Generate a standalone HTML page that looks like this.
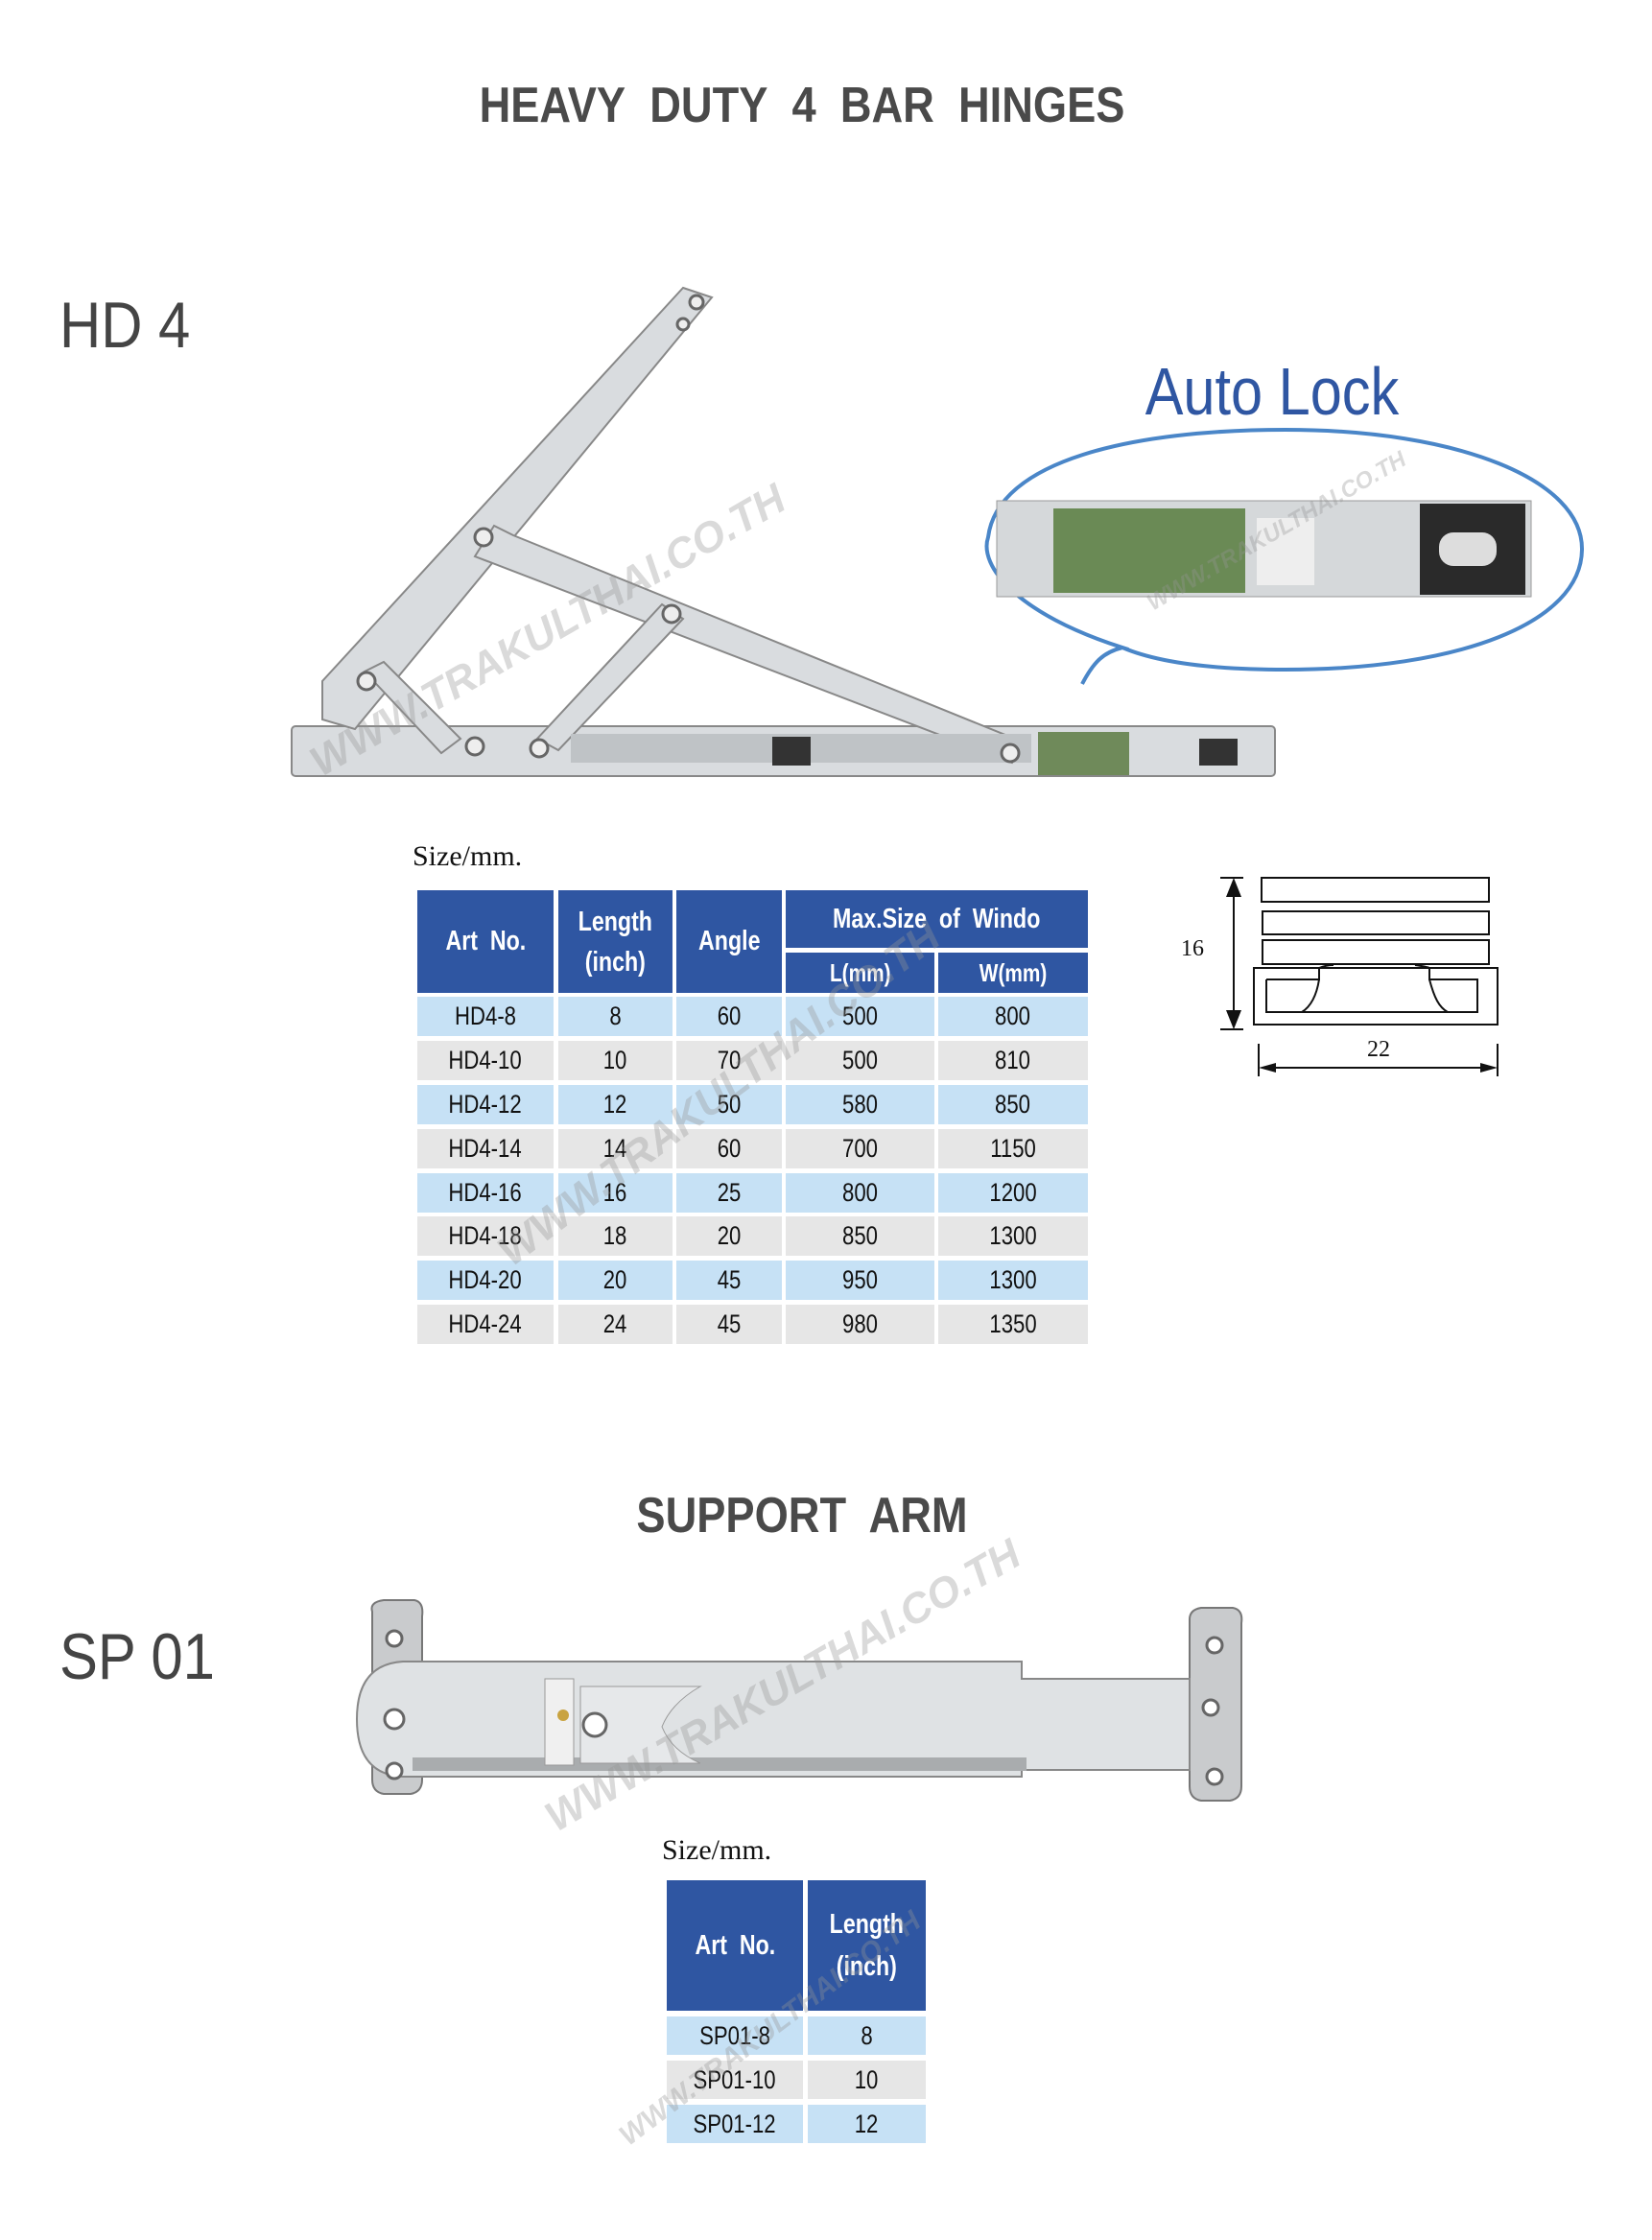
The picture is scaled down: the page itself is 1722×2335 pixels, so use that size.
<!DOCTYPE html>
<html><head><meta charset="utf-8"><style>
body{margin:0;width:1722px;height:2335px;background:#fff;position:relative;overflow:hidden;font-family:"Liberation Sans",sans-serif}
.a{position:absolute}
.t{position:absolute;font-weight:bold;color:#4a4a4a;white-space:nowrap;transform-origin:center;}
.c{position:absolute;display:flex;align-items:center;justify-content:center;font-size:27px;color:#111;}
.c span{display:inline-block;transform:scaleX(0.82)}
.h{background:#2f56a2;color:#fff;font-weight:bold;font-size:29px;text-align:center;line-height:1.5}
.b{background:#c6e1f5}.g{background:#e6e6e6}
.wm{position:absolute;color:rgba(150,150,150,0.35);font-weight:bold;font-style:italic;white-space:nowrap;transform-origin:left bottom}
</style></head><body>

<div class="t" style="left:436px;top:80px;width:800px;text-align:center;font-size:52px;transform:scaleX(0.87)">HEAVY&nbsp; DUTY&nbsp; 4&nbsp; BAR&nbsp; HINGES</div>
<div class="t" style="left:62px;top:300px;font-size:68px;font-weight:normal;color:#444;transform:scaleX(0.88);transform-origin:left">HD 4</div>

<svg class="a" style="left:0;top:0" width="1722" height="900">
 <g stroke="#888" stroke-width="2" fill="#d9dcdf">
  <rect x="304" y="757" width="1025" height="52" rx="4"/>
  <polygon points="712,300 742,310 370,760 336,750 336,710"/>
  <polygon points="515,548 535,558 1070,775 1055,795 495,580"/>
  <polygon points="690,630 712,645 582,782 560,770"/>
  <polygon points="380,700 400,690 480,770 460,785"/>
 </g>
 <rect x="595" y="765" width="480" height="30" fill="#bfc3c6"/>
 <rect x="1082" y="763" width="95" height="45" fill="#6f8a5a"/>
 <rect x="805" y="768" width="40" height="30" fill="#333"/>
 <rect x="1250" y="770" width="40" height="28" fill="#333"/>
 <g fill="#eee" stroke="#666" stroke-width="3">
  <circle cx="504" cy="560" r="9"/><circle cx="700" cy="640" r="9"/><circle cx="382" cy="710" r="9"/>
  <circle cx="495" cy="778" r="9"/><circle cx="562" cy="780" r="9"/><circle cx="1053" cy="785" r="9"/>
  <circle cx="726" cy="315" r="7"/><circle cx="712" cy="338" r="6"/>
 </g>
 <text x="1326" y="432" text-anchor="middle" font-family="Liberation Sans" font-size="70" fill="#2f56a2" transform="translate(1326 0) scale(0.85 1) translate(-1326 0)">Auto Lock</text>
 <path d="M1128,713 C1140,690 1150,680 1170,675 C1060,640 1020,590 1030,560 C1040,480 1180,448 1340,448 C1520,448 1650,500 1649,573 C1648,650 1520,698 1340,698 C1260,698 1205,690 1170,675" fill="none" stroke="#4a86c8" stroke-width="4"/>
 <rect x="1039" y="522" width="557" height="100" fill="#d5d8da" stroke="#999"/>
 <rect x="1098" y="530" width="200" height="88" fill="#6a8a55"/>
 <rect x="1480" y="525" width="110" height="95" fill="#2a2a2a"/>
 <rect x="1500" y="555" width="60" height="35" rx="15" fill="#ddd"/>
 <rect x="1310" y="540" width="60" height="70" fill="#eee"/>
</svg>

<div class="wm" style="left:340px;top:770px;font-size:44px;transform:rotate(-30deg)">WWW.TRAKULTHAI.CO.TH</div>
<div class="wm" style="left:1205px;top:615px;font-size:24px;transform:rotate(-30deg)">WWW.TRAKULTHAI.CO.TH</div>

<div class="a" style="left:430px;top:876px;font-family:'Liberation Serif',serif;font-size:30px;color:#111">Size/mm.</div>

<div class="a h" style="left:435px;top:928px;width:142px;height:107px;line-height:107px"><span style="display:inline-block;transform:scaleX(0.8)">Art&nbsp; No.</span></div>
<div class="a h" style="left:582px;top:928px;width:119px;height:107px;padding-top:12px;box-sizing:border-box;line-height:42px"><span style="display:inline-block;transform:scaleX(0.8)">Length<br>(inch)</span></div>
<div class="a h" style="left:705px;top:928px;width:110px;height:107px;line-height:107px"><span style="display:inline-block;transform:scaleX(0.8)">Angle</span></div>
<div class="a h" style="left:819px;top:928px;width:315px;height:60px;line-height:60px"><span style="display:inline-block;transform:scaleX(0.8)">Max.Size&nbsp; of&nbsp; Windo</span></div>
<div class="a h" style="left:819px;top:993px;width:155px;height:42px;line-height:42px;font-size:26px"><span style="display:inline-block;transform:scaleX(0.8)">L(mm)</span></div>
<div class="a h" style="left:978px;top:993px;width:156px;height:42px;line-height:42px;font-size:26px"><span style="display:inline-block;transform:scaleX(0.8)">W(mm)</span></div>

<div class="c b" style="left:435px;top:1039px;width:142px;height:41px"><span>HD4-8</span></div><div class="c b" style="left:582px;top:1039px;width:119px;height:41px"><span>8</span></div><div class="c b" style="left:705px;top:1039px;width:110px;height:41px"><span>60</span></div><div class="c b" style="left:819px;top:1039px;width:155px;height:41px"><span>500</span></div><div class="c b" style="left:978px;top:1039px;width:156px;height:41px"><span>800</span></div>
<div class="c g" style="left:435px;top:1085px;width:142px;height:41px"><span>HD4-10</span></div><div class="c g" style="left:582px;top:1085px;width:119px;height:41px"><span>10</span></div><div class="c g" style="left:705px;top:1085px;width:110px;height:41px"><span>70</span></div><div class="c g" style="left:819px;top:1085px;width:155px;height:41px"><span>500</span></div><div class="c g" style="left:978px;top:1085px;width:156px;height:41px"><span>810</span></div>
<div class="c b" style="left:435px;top:1131px;width:142px;height:41px"><span>HD4-12</span></div><div class="c b" style="left:582px;top:1131px;width:119px;height:41px"><span>12</span></div><div class="c b" style="left:705px;top:1131px;width:110px;height:41px"><span>50</span></div><div class="c b" style="left:819px;top:1131px;width:155px;height:41px"><span>580</span></div><div class="c b" style="left:978px;top:1131px;width:156px;height:41px"><span>850</span></div>
<div class="c g" style="left:435px;top:1177px;width:142px;height:41px"><span>HD4-14</span></div><div class="c g" style="left:582px;top:1177px;width:119px;height:41px"><span>14</span></div><div class="c g" style="left:705px;top:1177px;width:110px;height:41px"><span>60</span></div><div class="c g" style="left:819px;top:1177px;width:155px;height:41px"><span>700</span></div><div class="c g" style="left:978px;top:1177px;width:156px;height:41px"><span>1150</span></div>
<div class="c b" style="left:435px;top:1223px;width:142px;height:41px"><span>HD4-16</span></div><div class="c b" style="left:582px;top:1223px;width:119px;height:41px"><span>16</span></div><div class="c b" style="left:705px;top:1223px;width:110px;height:41px"><span>25</span></div><div class="c b" style="left:819px;top:1223px;width:155px;height:41px"><span>800</span></div><div class="c b" style="left:978px;top:1223px;width:156px;height:41px"><span>1200</span></div>
<div class="c g" style="left:435px;top:1268px;width:142px;height:41px"><span>HD4-18</span></div><div class="c g" style="left:582px;top:1268px;width:119px;height:41px"><span>18</span></div><div class="c g" style="left:705px;top:1268px;width:110px;height:41px"><span>20</span></div><div class="c g" style="left:819px;top:1268px;width:155px;height:41px"><span>850</span></div><div class="c g" style="left:978px;top:1268px;width:156px;height:41px"><span>1300</span></div>
<div class="c b" style="left:435px;top:1314px;width:142px;height:41px"><span>HD4-20</span></div><div class="c b" style="left:582px;top:1314px;width:119px;height:41px"><span>20</span></div><div class="c b" style="left:705px;top:1314px;width:110px;height:41px"><span>45</span></div><div class="c b" style="left:819px;top:1314px;width:155px;height:41px"><span>950</span></div><div class="c b" style="left:978px;top:1314px;width:156px;height:41px"><span>1300</span></div>
<div class="c g" style="left:435px;top:1360px;width:142px;height:41px"><span>HD4-24</span></div><div class="c g" style="left:582px;top:1360px;width:119px;height:41px"><span>24</span></div><div class="c g" style="left:705px;top:1360px;width:110px;height:41px"><span>45</span></div><div class="c g" style="left:819px;top:1360px;width:155px;height:41px"><span>980</span></div><div class="c g" style="left:978px;top:1360px;width:156px;height:41px"><span>1350</span></div>

<div class="wm" style="left:540px;top:1280px;font-size:44px;transform:rotate(-37deg)">WWW.TRAKULTHAI.CO.TH</div>

<svg class="a" style="left:1200px;top:890px" width="380" height="240">
 <g fill="none" stroke="#111" stroke-width="2">
  <rect x="115" y="25" width="237" height="25"/>
  <rect x="116" y="60" width="236" height="24"/>
  <rect x="116" y="90" width="236" height="25"/>
  <rect x="107" y="119" width="254" height="59"/>
  <path d="M120,131 H175 V119 M175,131 C172,150 165,160 157,165 M120,131 V165 H340 V131 H290 V119 M290,131 C295,150 300,160 309,165 M175,119 C180,117 185,116 190,116 M275,116 C282,117 288,118 290,119"/>
  <line x1="86" y1="35" x2="86" y2="172"/>
  <line x1="72" y1="25" x2="96" y2="25"/><line x1="72" y1="183" x2="96" y2="183"/>
  <line x1="120" y1="223" x2="355" y2="223"/>
  <line x1="112" y1="198" x2="112" y2="232"/><line x1="361" y1="198" x2="361" y2="232"/>
 </g>
 <polygon points="86,25 78,45 94,45" fill="#111"/><polygon points="86,183 78,163 94,163" fill="#111"/>
 <polygon points="112,223 130,218 130,228" fill="#111"/><polygon points="361,223 343,218 343,228" fill="#111"/>
 <text x="43" y="106" font-family="Liberation Serif" font-size="24" text-anchor="middle" fill="#111">16</text>
 <text x="237" y="211" font-family="Liberation Serif" font-size="24" text-anchor="middle" fill="#111">22</text>
</svg>

<div class="t" style="left:536px;top:1550px;width:600px;text-align:center;font-size:52px;transform:scaleX(0.87)">SUPPORT&nbsp; ARM</div>
<div class="t" style="left:62px;top:1688px;font-size:68px;font-weight:normal;color:#444;transform:scaleX(0.88);transform-origin:left">SP 01</div>

<svg class="a" style="left:0;top:1600px" width="1722" height="320">
 <g stroke="#777" stroke-width="2" fill="#c9cbcd">
  <path d="M388,80 Q385,70 400,68 H432 Q442,70 440,85 V255 Q440,268 428,270 H400 Q388,268 388,255 Z"/>
  <path d="M1240,88 Q1240,78 1252,76 H1285 Q1296,78 1294,92 V262 Q1294,275 1282,277 H1252 Q1240,275 1240,262 Z"/>
 </g>
 <path d="M420,132 H1065 V150 H1240 V245 H1065 V252 H420 Q372,250 372,192 Q372,135 420,132 Z" fill="#dfe2e4" stroke="#888" stroke-width="2"/>
 <rect x="430" y="232" width="640" height="14" fill="#a9acae"/>
 <rect x="568" y="150" width="30" height="90" fill="#f0f0f0" stroke="#999"/>
 <circle cx="587" cy="188" r="6" fill="#c9a340"/>
 <path d="M605,158 H730 Q700,175 690,200 Q700,225 730,238 H605 Z" fill="#e6e8ea" stroke="#999"/>
 <g fill="#fff" stroke="#666" stroke-width="3">
  <circle cx="411" cy="108" r="8"/><circle cx="411" cy="246" r="8"/><circle cx="411" cy="192" r="10"/>
  <circle cx="1266" cy="115" r="8"/><circle cx="1266" cy="252" r="8"/><circle cx="1262" cy="180" r="8"/>
  <circle cx="620" cy="198" r="12"/>
 </g>
</svg>
<div class="wm" style="left:585px;top:1870px;font-size:44px;transform:rotate(-30deg)">WWW.TRAKULTHAI.CO.TH</div>

<div class="a" style="left:690px;top:1912px;font-family:'Liberation Serif',serif;font-size:30px;color:#111">Size/mm.</div>
<div class="a h" style="left:695px;top:1960px;width:142px;height:136px;line-height:136px"><span style="display:inline-block;transform:scaleX(0.8)">Art&nbsp; No.</span></div>
<div class="a h" style="left:842px;top:1960px;width:123px;height:136px;padding-top:24px;box-sizing:border-box;line-height:44px"><span style="display:inline-block;transform:scaleX(0.8)">Length<br>(inch)</span></div>
<div class="c b" style="left:695px;top:2102px;width:142px;height:40px"><span>SP01-8</span></div><div class="c b" style="left:842px;top:2102px;width:123px;height:40px"><span>8</span></div>
<div class="c g" style="left:695px;top:2148px;width:142px;height:40px"><span>SP01-10</span></div><div class="c g" style="left:842px;top:2148px;width:123px;height:40px"><span>10</span></div>
<div class="c b" style="left:695px;top:2194px;width:142px;height:40px"><span>SP01-12</span></div><div class="c b" style="left:842px;top:2194px;width:123px;height:40px"><span>12</span></div>
<div class="wm" style="left:660px;top:2210px;font-size:30px;transform:rotate(-37deg)">WWW.TRAKULTHAI.CO.TH</div>
</body></html>
